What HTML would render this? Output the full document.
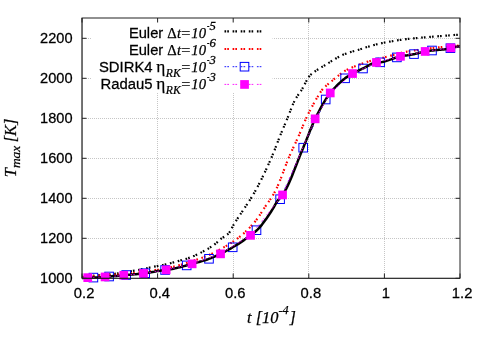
<!DOCTYPE html>
<html><head><meta charset="utf-8"><title>Tmax</title>
<style>html,body{margin:0;padding:0;background:#fff;overflow:hidden;}svg{display:block;}text{font-family:"Liberation Sans", sans-serif;fill:#000;stroke:#000;stroke-width:0.25px;}.t{font-family:"Liberation Sans", sans-serif;font-size:14.8px;}.s{font-family:"Liberation Sans", sans-serif;font-size:14.7px;}.i{font-family:"Liberation Serif", serif;font-style:italic;font-size:14.7px;}.r{font-family:"Liberation Serif", serif;font-size:14.7px;}.u{font-family:"Liberation Serif", serif;font-style:italic;font-size:11.76px;}.e{font-family:"Liberation Serif", serif;font-size:17.3px;}.L{font-family:"Liberation Serif", serif;font-style:italic;font-size:16.4px;}.l{font-family:"Liberation Serif", serif;font-style:italic;font-size:12.3px;}.l2{font-family:"Liberation Serif", serif;font-style:italic;font-size:13.4px;}</style></head><body>
<svg style="will-change:transform" width="487" height="341" viewBox="0 0 487 341">
<rect x="0" y="0" width="487" height="341" fill="#fff"/>
<g>
<line x1="157.5" y1="278.0" x2="157.5" y2="18.0" stroke="#c6c6c6" stroke-width="1" stroke-dasharray="1,1" fill="none"/>
<line x1="233.5" y1="278.0" x2="233.5" y2="18.0" stroke="#c6c6c6" stroke-width="1" stroke-dasharray="1,1" fill="none"/>
<line x1="308.5" y1="278.0" x2="308.5" y2="18.0" stroke="#c6c6c6" stroke-width="1" stroke-dasharray="1,1" fill="none"/>
<line x1="384.5" y1="278.0" x2="384.5" y2="18.0" stroke="#c6c6c6" stroke-width="1" stroke-dasharray="1,1" fill="none"/>
<line x1="82.0" y1="238.5" x2="460.0" y2="238.5" stroke="#c6c6c6" stroke-width="1" stroke-dasharray="1,1" fill="none"/>
<line x1="82.0" y1="198.5" x2="460.0" y2="198.5" stroke="#c6c6c6" stroke-width="1" stroke-dasharray="1,1" fill="none"/>
<line x1="82.0" y1="158.5" x2="460.0" y2="158.5" stroke="#c6c6c6" stroke-width="1" stroke-dasharray="1,1" fill="none"/>
<line x1="82.0" y1="118.5" x2="460.0" y2="118.5" stroke="#c6c6c6" stroke-width="1" stroke-dasharray="1,1" fill="none"/>
<line x1="82.0" y1="78.5" x2="460.0" y2="78.5" stroke="#c6c6c6" stroke-width="1" stroke-dasharray="1,1" fill="none"/>
<line x1="82.0" y1="38.5" x2="460.0" y2="38.5" stroke="#c6c6c6" stroke-width="1" stroke-dasharray="1,1" fill="none"/>
</g>
<rect x="91.5" y="18.0" width="181" height="75" fill="#fff"/>
<path d="M82.0,276.8 L83.5,276.7 L85.0,276.5 L86.5,276.4 L88.0,276.3 L89.5,276.1 L91.0,276.0 L92.5,275.8 L94.0,275.7 L95.5,275.6 L97.0,275.5 L98.5,275.3 L100.0,275.2 L101.5,275.1 L103.0,274.9 L104.5,274.8 L106.0,274.7 L107.5,274.5 L109.0,274.4 L110.5,274.3 L112.0,274.1 L113.5,274.0 L115.0,273.8 L116.5,273.6 L118.0,273.4 L119.5,273.2 L121.0,273.0 L122.5,272.8 L124.0,272.5 L125.5,272.3 L127.0,272.0 L128.5,271.7 L130.0,271.5 L131.5,271.2 L133.0,270.9 L134.5,270.6 L136.0,270.4 L137.5,270.1 L139.0,269.8 L140.5,269.5 L142.0,269.2 L143.5,268.9 L145.0,268.6 L146.5,268.3 L148.0,267.9 L149.5,267.6 L151.0,267.3 L152.5,267.0 L154.0,266.7 L155.5,266.4 L157.0,266.1 L158.5,265.8 L160.0,265.5 L161.5,265.3 L163.0,265.0 L164.5,264.7 L166.0,264.3 L167.5,264.0 L169.0,263.6 L170.5,263.2 L172.0,262.8 L173.5,262.4 L175.0,262.0 L176.5,261.5 L178.0,261.1 L179.5,260.6 L181.0,260.2 L182.5,259.8 L184.0,259.4 L185.5,259.0 L187.0,258.6 L188.5,258.1 L190.0,257.5 L191.5,256.9 L193.0,256.3 L194.5,255.7 L196.0,255.0 L197.5,254.3 L199.0,253.6 L200.5,252.9 L202.0,252.1 L203.5,251.3 L205.0,250.5 L206.5,249.6 L208.0,248.8 L209.5,247.8 L211.0,246.8 L212.5,245.8 L214.0,244.8 L215.5,243.6 L217.0,242.4 L218.5,241.0 L220.0,239.6 L221.5,238.4 L223.0,237.5 L224.5,236.6 L226.0,235.6 L227.5,234.5 L229.0,233.1 L230.5,230.8 L232.0,227.8 L233.5,225.0 L235.0,222.5 L236.5,220.1 L238.0,217.8 L239.5,215.5 L241.0,213.3 L242.5,211.1 L244.0,208.9 L245.5,206.7 L247.0,204.4 L248.5,202.1 L250.0,199.8 L251.5,197.4 L253.0,195.0 L254.5,192.4 L256.0,189.7 L257.5,187.0 L259.0,184.1 L260.5,181.2 L262.0,178.2 L263.5,175.1 L265.0,171.9 L266.5,168.7 L268.0,165.4 L269.5,162.1 L271.0,158.7 L272.5,155.2 L274.0,151.6 L275.5,147.7 L277.0,143.8 L278.5,139.9 L280.0,136.0 L281.5,132.4 L283.0,128.8 L284.5,125.3 L286.0,121.7 L287.5,118.1 L289.0,114.3 L290.5,110.4 L292.0,106.5 L293.5,103.0 L295.0,99.9 L296.5,97.4 L298.0,95.2 L299.5,93.1 L301.0,90.9 L302.5,88.4 L304.0,85.5 L305.5,82.6 L307.0,79.9 L308.5,77.3 L310.0,75.4 L311.5,74.0 L313.0,72.8 L314.5,71.7 L316.0,70.7 L317.5,69.7 L319.0,68.8 L320.5,67.8 L322.0,66.9 L323.5,66.1 L325.0,65.2 L326.5,64.3 L328.0,63.3 L329.5,62.4 L331.0,61.4 L332.5,60.5 L334.0,59.6 L335.5,58.7 L337.0,57.8 L338.5,57.0 L340.0,56.2 L341.5,55.4 L343.0,54.7 L344.5,54.1 L346.0,53.6 L347.5,53.0 L349.0,52.6 L350.5,52.1 L352.0,51.7 L353.5,51.2 L355.0,50.8 L356.5,50.4 L358.0,50.0 L359.5,49.5 L361.0,49.0 L362.5,48.5 L364.0,48.0 L365.5,47.5 L367.0,47.0 L368.5,46.6 L370.0,46.1 L371.5,45.7 L373.0,45.3 L374.5,44.9 L376.0,44.5 L377.5,44.1 L379.0,43.8 L380.5,43.5 L382.0,43.1 L383.5,42.8 L385.0,42.5 L386.5,42.2 L388.0,42.0 L389.5,41.7 L391.0,41.4 L392.5,41.2 L394.0,40.9 L395.5,40.7 L397.0,40.4 L398.5,40.2 L400.0,40.0 L401.5,39.8 L403.0,39.6 L404.5,39.4 L406.0,39.2 L407.5,39.0 L409.0,38.8 L410.5,38.7 L412.0,38.5 L413.5,38.4 L415.0,38.2 L416.5,38.1 L418.0,37.9 L419.5,37.8 L421.0,37.7 L422.5,37.5 L424.0,37.4 L425.5,37.3 L427.0,37.2 L428.5,37.1 L430.0,36.9 L431.5,36.8 L433.0,36.7 L434.5,36.6 L436.0,36.5 L437.5,36.3 L439.0,36.2 L440.5,36.1 L442.0,36.0 L443.5,35.9 L445.0,35.7 L446.5,35.6 L448.0,35.5 L449.5,35.4 L451.0,35.3 L452.5,35.2 L454.0,35.0 L455.5,34.9 L457.0,34.8 L458.5,34.7 L460.0,34.6" fill="none" stroke="#000" stroke-width="2.2" stroke-dasharray="1.65,1.1,1.65,3.7"/>
<path d="M82.0,277.2 L83.5,277.1 L85.0,276.9 L86.5,276.8 L88.0,276.7 L89.5,276.6 L91.0,276.4 L92.5,276.3 L94.0,276.2 L95.5,276.1 L97.0,276.0 L98.5,275.9 L100.0,275.8 L101.5,275.7 L103.0,275.6 L104.5,275.6 L106.0,275.5 L107.5,275.4 L109.0,275.3 L110.5,275.2 L112.0,275.1 L113.5,275.0 L115.0,274.9 L116.5,274.7 L118.0,274.6 L119.5,274.5 L121.0,274.4 L122.5,274.2 L124.0,274.1 L125.5,273.9 L127.0,273.8 L128.5,273.6 L130.0,273.5 L131.5,273.3 L133.0,273.2 L134.5,273.0 L136.0,272.8 L137.5,272.6 L139.0,272.4 L140.5,272.3 L142.0,272.1 L143.5,271.8 L145.0,271.6 L146.5,271.4 L148.0,271.2 L149.5,271.0 L151.0,270.8 L152.5,270.5 L154.0,270.3 L155.5,270.0 L157.0,269.8 L158.5,269.6 L160.0,269.3 L161.5,269.1 L163.0,268.8 L164.5,268.5 L166.0,268.2 L167.5,268.0 L169.0,267.7 L170.5,267.3 L172.0,267.0 L173.5,266.7 L175.0,266.3 L176.5,266.0 L178.0,265.6 L179.5,265.1 L181.0,264.7 L182.5,264.3 L184.0,263.8 L185.5,263.4 L187.0,262.9 L188.5,262.4 L190.0,261.9 L191.5,261.4 L193.0,260.9 L194.5,260.4 L196.0,259.9 L197.5,259.4 L199.0,258.9 L200.5,258.3 L202.0,257.8 L203.5,257.2 L205.0,256.6 L206.5,256.0 L208.0,255.4 L209.5,254.8 L211.0,254.1 L212.5,253.4 L214.0,252.7 L215.5,251.9 L217.0,251.2 L218.5,250.4 L220.0,249.5 L221.5,248.7 L223.0,247.8 L224.5,246.9 L226.0,246.1 L227.5,245.2 L229.0,244.3 L230.5,243.3 L232.0,242.4 L233.5,241.4 L235.0,240.4 L236.5,239.3 L238.0,238.2 L239.5,237.0 L241.0,235.8 L242.5,234.5 L244.0,233.2 L245.5,231.8 L247.0,230.3 L248.5,228.8 L250.0,227.3 L251.5,225.6 L253.0,224.0 L254.5,222.2 L256.0,220.4 L257.5,218.4 L259.0,216.2 L260.5,213.9 L262.0,211.6 L263.5,209.2 L265.0,207.0 L266.5,204.8 L268.0,202.7 L269.5,200.5 L271.0,198.3 L272.5,196.0 L274.0,193.5 L275.5,190.7 L277.0,187.6 L278.5,184.2 L280.0,180.5 L281.5,176.7 L283.0,172.7 L284.5,168.6 L286.0,164.7 L287.5,160.8 L289.0,157.1 L290.5,153.7 L292.0,150.4 L293.5,147.2 L295.0,144.0 L296.5,140.8 L298.0,137.5 L299.5,134.1 L301.0,130.5 L302.5,126.8 L304.0,123.1 L305.5,119.7 L307.0,116.5 L308.5,113.4 L310.0,110.5 L311.5,107.6 L313.0,104.8 L314.5,102.2 L316.0,99.5 L317.5,97.0 L319.0,94.5 L320.5,92.1 L322.0,90.0 L323.5,88.3 L325.0,86.8 L326.5,85.4 L328.0,84.2 L329.5,82.9 L331.0,81.7 L332.5,80.5 L334.0,79.2 L335.5,78.0 L337.0,76.7 L338.5,75.5 L340.0,74.3 L341.5,73.1 L343.0,72.1 L344.5,71.1 L346.0,70.2 L347.5,69.5 L349.0,68.8 L350.5,68.1 L352.0,67.5 L353.5,66.9 L355.0,66.3 L356.5,65.7 L358.0,65.2 L359.5,64.6 L361.0,64.1 L362.5,63.5 L364.0,63.0 L365.5,62.5 L367.0,61.9 L368.5,61.4 L370.0,61.0 L371.5,60.5 L373.0,60.1 L374.5,59.7 L376.0,59.4 L377.5,59.0 L379.0,58.6 L380.5,58.3 L382.0,57.9 L383.5,57.6 L385.0,57.2 L386.5,56.8 L388.0,56.4 L389.5,56.0 L391.0,55.6 L392.5,55.2 L394.0,54.8 L395.5,54.4 L397.0,53.9 L398.5,53.6 L400.0,53.2 L401.5,52.8 L403.0,52.4 L404.5,52.1 L406.0,51.8 L407.5,51.5 L409.0,51.3 L410.5,51.0 L412.0,50.8 L413.5,50.5 L415.0,50.3 L416.5,50.1 L418.0,49.9 L419.5,49.6 L421.0,49.4 L422.5,49.3 L424.0,49.1 L425.5,48.9 L427.0,48.7 L428.5,48.5 L430.0,48.4 L431.5,48.2 L433.0,48.0 L434.5,47.9 L436.0,47.7 L437.5,47.5 L439.0,47.4 L440.5,47.2 L442.0,47.1 L443.5,46.9 L445.0,46.8 L446.5,46.7 L448.0,46.5 L449.5,46.4 L451.0,46.3 L452.5,46.1 L454.0,46.0 L455.5,45.9 L457.0,45.8 L458.5,45.7 L460.0,45.6" fill="none" stroke="#f00" stroke-width="2.2" stroke-dasharray="1.65,1.1,1.65,3.7"/>
<path d="M82.0,278.0 L93.4,277.6 L109.1,276.5 L126.2,275.0 L145.2,273.2 L165.1,270.0 L186.7,265.4 L209.0,258.8 L232.7,247.3 L256.5,230.2 L280.1,199.2 L303.2,147.7 L325.7,99.5 L345.1,78.3 L363.0,68.5 L380.1,62.3 L396.9,57.4 L414.0,54.1 L432.0,50.5 L450.4,48.2 L460.0,46.8" fill="none" stroke="#00f" stroke-width="0.8" stroke-dasharray="1.7,1.1,1.7,3.6"/>
<rect x="89.1" y="273.3" width="8.6" height="8.6" fill="none" stroke="#00f" stroke-width="1"/>
<rect x="104.8" y="272.2" width="8.6" height="8.6" fill="none" stroke="#00f" stroke-width="1"/>
<rect x="121.9" y="270.7" width="8.6" height="8.6" fill="none" stroke="#00f" stroke-width="1"/>
<rect x="140.9" y="268.9" width="8.6" height="8.6" fill="none" stroke="#00f" stroke-width="1"/>
<rect x="160.8" y="265.7" width="8.6" height="8.6" fill="none" stroke="#00f" stroke-width="1"/>
<rect x="182.4" y="261.1" width="8.6" height="8.6" fill="none" stroke="#00f" stroke-width="1"/>
<rect x="204.7" y="254.5" width="8.6" height="8.6" fill="none" stroke="#00f" stroke-width="1"/>
<rect x="228.4" y="243.0" width="8.6" height="8.6" fill="none" stroke="#00f" stroke-width="1"/>
<rect x="252.2" y="225.9" width="8.6" height="8.6" fill="none" stroke="#00f" stroke-width="1"/>
<rect x="275.8" y="194.9" width="8.6" height="8.6" fill="none" stroke="#00f" stroke-width="1"/>
<rect x="298.9" y="143.4" width="8.6" height="8.6" fill="none" stroke="#00f" stroke-width="1"/>
<rect x="321.4" y="95.2" width="8.6" height="8.6" fill="none" stroke="#00f" stroke-width="1"/>
<rect x="340.8" y="74.0" width="8.6" height="8.6" fill="none" stroke="#00f" stroke-width="1"/>
<rect x="358.7" y="64.2" width="8.6" height="8.6" fill="none" stroke="#00f" stroke-width="1"/>
<rect x="375.8" y="58.0" width="8.6" height="8.6" fill="none" stroke="#00f" stroke-width="1"/>
<rect x="392.6" y="53.1" width="8.6" height="8.6" fill="none" stroke="#00f" stroke-width="1"/>
<rect x="409.7" y="49.8" width="8.6" height="8.6" fill="none" stroke="#00f" stroke-width="1"/>
<rect x="427.7" y="46.2" width="8.6" height="8.6" fill="none" stroke="#00f" stroke-width="1"/>
<rect x="446.1" y="43.9" width="8.6" height="8.6" fill="none" stroke="#00f" stroke-width="1"/>
<path d="M82.0,278.0 L83.5,277.9 L85.0,277.8 L86.5,277.7 L88.0,277.7 L89.5,277.7 L91.0,277.6 L92.5,277.6 L94.0,277.6 L95.5,277.5 L97.0,277.5 L98.5,277.4 L100.0,277.3 L101.5,277.2 L103.0,277.1 L104.5,277.0 L106.0,276.9 L107.5,276.7 L109.0,276.5 L110.5,276.4 L112.0,276.2 L113.5,276.1 L115.0,276.0 L116.5,275.9 L118.0,275.8 L119.5,275.7 L121.0,275.5 L122.5,275.4 L124.0,275.3 L125.5,275.1 L127.0,274.9 L128.5,274.8 L130.0,274.7 L131.5,274.5 L133.0,274.4 L134.5,274.3 L136.0,274.2 L137.5,274.1 L139.0,274.0 L140.5,273.8 L142.0,273.7 L143.5,273.5 L145.0,273.2 L146.5,273.0 L148.0,272.7 L149.5,272.5 L151.0,272.2 L152.5,271.9 L154.0,271.7 L155.5,271.4 L157.0,271.1 L158.5,270.9 L160.0,270.7 L161.5,270.4 L163.0,270.2 L164.5,270.1 L166.0,269.9 L167.5,269.7 L169.0,269.5 L170.5,269.3 L172.0,269.0 L173.5,268.7 L175.0,268.3 L176.5,268.0 L178.0,267.6 L179.5,267.2 L181.0,266.9 L182.5,266.5 L184.0,266.1 L185.5,265.7 L187.0,265.3 L188.5,264.9 L190.0,264.5 L191.5,264.1 L193.0,263.6 L194.5,263.2 L196.0,262.8 L197.5,262.4 L199.0,262.0 L200.5,261.5 L202.0,261.1 L203.5,260.6 L205.0,260.2 L206.5,259.7 L208.0,259.2 L209.5,258.6 L211.0,258.0 L212.5,257.4 L214.0,256.8 L215.5,256.1 L217.0,255.5 L218.5,254.8 L220.0,254.0 L221.5,253.3 L223.0,252.6 L224.5,251.8 L226.0,251.0 L227.5,250.2 L229.0,249.4 L230.5,248.6 L232.0,247.7 L233.5,246.8 L235.0,245.9 L236.5,245.0 L238.0,244.1 L239.5,243.1 L241.0,242.1 L242.5,241.1 L244.0,240.1 L245.5,239.0 L247.0,238.0 L248.5,236.9 L250.0,235.8 L251.5,234.6 L253.0,233.4 L254.5,232.2 L256.0,231.0 L257.5,229.6 L259.0,228.1 L260.5,226.4 L262.0,224.6 L263.5,222.6 L265.0,220.6 L266.5,218.5 L268.0,216.3 L269.5,214.1 L271.0,211.8 L272.5,209.4 L274.0,206.8 L275.5,204.1 L277.0,201.6 L278.5,199.6 L280.0,197.9 L281.5,196.3 L283.0,194.3 L284.5,191.9 L286.0,189.1 L287.5,186.1 L289.0,182.9 L290.5,179.5 L292.0,175.9 L293.5,172.1 L295.0,168.3 L296.5,164.5 L298.0,160.6 L299.5,156.8 L301.0,153.0 L302.5,149.4 L304.0,145.8 L305.5,142.1 L307.0,138.4 L308.5,134.6 L310.0,130.8 L311.5,127.2 L313.0,123.6 L314.5,120.3 L316.0,117.2 L317.5,114.1 L319.0,111.2 L320.5,108.4 L322.0,105.7 L323.5,103.1 L325.0,100.6 L326.5,98.2 L328.0,96.0 L329.5,93.9 L331.0,92.1 L332.5,90.3 L334.0,88.6 L335.5,87.0 L337.0,85.4 L338.5,84.0 L340.0,82.6 L341.5,81.2 L343.0,79.9 L344.5,78.8 L346.0,77.6 L347.5,76.6 L349.0,75.7 L350.5,74.8 L352.0,73.9 L353.5,73.1 L355.0,72.3 L356.5,71.6 L358.0,70.8 L359.5,70.1 L361.0,69.4 L362.5,68.7 L364.0,68.0 L365.5,67.2 L367.0,66.4 L368.5,65.5 L370.0,64.7 L371.5,64.0 L373.0,63.4 L374.5,62.9 L376.0,62.6 L377.5,62.4 L379.0,62.4 L380.5,62.3 L382.0,62.1 L383.5,61.8 L385.0,61.4 L386.5,60.9 L388.0,60.4 L389.5,59.9 L391.0,59.4 L392.5,58.8 L394.0,58.3 L395.5,57.8 L397.0,57.4 L398.5,56.9 L400.0,56.5 L401.5,56.2 L403.0,55.9 L404.5,55.6 L406.0,55.4 L407.5,55.2 L409.0,54.9 L410.5,54.7 L412.0,54.5 L413.5,54.2 L415.0,53.9 L416.5,53.5 L418.0,53.2 L419.5,52.8 L421.0,52.4 L422.5,52.1 L424.0,51.7 L425.5,51.4 L427.0,51.2 L428.5,51.0 L430.0,50.8 L431.5,50.6 L433.0,50.4 L434.5,50.2 L436.0,50.1 L437.5,49.9 L439.0,49.8 L440.5,49.7 L442.0,49.6 L443.5,49.4 L445.0,49.2 L446.5,49.0 L448.0,48.7 L449.5,48.4 L451.0,47.9 L452.5,47.5 L454.0,47.2 L455.5,46.9 L457.0,46.7 L458.5,46.6 L460.0,46.6" fill="none" stroke="#000" stroke-width="2.5" stroke-linejoin="round"/>
<path d="M82.0,278.0 L87.7,277.7 L105.0,277.0 L123.7,275.3 L143.4,273.5 L166.2,269.9 L192.1,263.9 L220.5,253.8 L250.6,235.3 L282.6,194.9 L315.2,118.8 L330.3,92.9 L352.6,73.6 L376.5,62.5 L400.5,56.4 L425.2,51.5 L450.9,47.9 L460.0,46.6" fill="none" stroke="#f0f" stroke-width="0.8" stroke-dasharray="1.7,1.1,1.7,3.6"/>
<rect x="83.4" y="273.3" width="8.7" height="8.7" fill="#f0f"/>
<rect x="100.7" y="272.6" width="8.7" height="8.7" fill="#f0f"/>
<rect x="119.4" y="270.9" width="8.7" height="8.7" fill="#f0f"/>
<rect x="139.1" y="269.1" width="8.7" height="8.7" fill="#f0f"/>
<rect x="161.8" y="265.5" width="8.7" height="8.7" fill="#f0f"/>
<rect x="187.8" y="259.5" width="8.7" height="8.7" fill="#f0f"/>
<rect x="216.2" y="249.5" width="8.7" height="8.7" fill="#f0f"/>
<rect x="246.2" y="231.0" width="8.7" height="8.7" fill="#f0f"/>
<rect x="278.2" y="190.6" width="8.7" height="8.7" fill="#f0f"/>
<rect x="310.8" y="114.5" width="8.7" height="8.7" fill="#f0f"/>
<rect x="325.9" y="88.6" width="8.7" height="8.7" fill="#f0f"/>
<rect x="348.2" y="69.2" width="8.7" height="8.7" fill="#f0f"/>
<rect x="372.1" y="58.1" width="8.7" height="8.7" fill="#f0f"/>
<rect x="396.1" y="52.0" width="8.7" height="8.7" fill="#f0f"/>
<rect x="420.8" y="47.1" width="8.7" height="8.7" fill="#f0f"/>
<rect x="446.5" y="43.5" width="8.7" height="8.7" fill="#f0f"/>
<rect x="82.0" y="18.0" width="378.0" height="260.3" fill="none" stroke="#222" stroke-width="1"/>
<path d="M82.1,18.0 V278.3 H460.0" fill="none" stroke="#000" stroke-width="1" opacity="0.4"/>
<g stroke="#222" stroke-width="1">
<line x1="82.0" y1="278.0" x2="82.0" y2="273.5"/>
<line x1="82.0" y1="18.0" x2="82.0" y2="22.5"/>
<line x1="157.6" y1="278.0" x2="157.6" y2="273.5"/>
<line x1="157.6" y1="18.0" x2="157.6" y2="22.5"/>
<line x1="233.2" y1="278.0" x2="233.2" y2="273.5"/>
<line x1="233.2" y1="18.0" x2="233.2" y2="22.5"/>
<line x1="308.8" y1="278.0" x2="308.8" y2="273.5"/>
<line x1="308.8" y1="18.0" x2="308.8" y2="22.5"/>
<line x1="384.4" y1="278.0" x2="384.4" y2="273.5"/>
<line x1="384.4" y1="18.0" x2="384.4" y2="22.5"/>
<line x1="460.0" y1="278.0" x2="460.0" y2="273.5"/>
<line x1="460.0" y1="18.0" x2="460.0" y2="22.5"/>
<line x1="82.0" y1="278.3" x2="86.5" y2="278.3"/>
<line x1="460.0" y1="278.3" x2="455.5" y2="278.3"/>
<line x1="82.0" y1="238.3" x2="86.5" y2="238.3"/>
<line x1="460.0" y1="238.3" x2="455.5" y2="238.3"/>
<line x1="82.0" y1="198.3" x2="86.5" y2="198.3"/>
<line x1="460.0" y1="198.3" x2="455.5" y2="198.3"/>
<line x1="82.0" y1="158.3" x2="86.5" y2="158.3"/>
<line x1="460.0" y1="158.3" x2="455.5" y2="158.3"/>
<line x1="82.0" y1="118.3" x2="86.5" y2="118.3"/>
<line x1="460.0" y1="118.3" x2="455.5" y2="118.3"/>
<line x1="82.0" y1="78.3" x2="86.5" y2="78.3"/>
<line x1="460.0" y1="78.3" x2="455.5" y2="78.3"/>
<line x1="82.0" y1="38.3" x2="86.5" y2="38.3"/>
<line x1="460.0" y1="38.3" x2="455.5" y2="38.3"/>
</g>
<text class="t" transform="translate(72.5,282.7) scale(0.985,1.04)" text-anchor="end" >1000</text>
<text class="t" transform="translate(72.5,242.7) scale(0.985,1.04)" text-anchor="end" >1200</text>
<text class="t" transform="translate(72.5,202.7) scale(0.985,1.04)" text-anchor="end" >1400</text>
<text class="t" transform="translate(72.5,162.7) scale(0.985,1.04)" text-anchor="end" >1600</text>
<text class="t" transform="translate(72.5,122.7) scale(0.985,1.04)" text-anchor="end" >1800</text>
<text class="t" transform="translate(72.5,82.7) scale(0.985,1.04)" text-anchor="end" >2000</text>
<text class="t" transform="translate(72.5,42.7) scale(0.985,1.04)" text-anchor="end" >2200</text>
<text class="t" transform="translate(84.1,298.2) scale(1.0,1.04)" text-anchor="middle" >0.2</text>
<text class="t" transform="translate(159.7,298.2) scale(1.0,1.04)" text-anchor="middle" >0.4</text>
<text class="t" transform="translate(235.3,298.2) scale(1.0,1.04)" text-anchor="middle" >0.6</text>
<text class="t" transform="translate(310.9,298.2) scale(1.0,1.04)" text-anchor="middle" >0.8</text>
<text class="t" transform="translate(385.8,298.2) scale(1.0,1.04)" text-anchor="middle" >1</text>
<text class="t" transform="translate(462.1,298.2) scale(1.0,1.04)" text-anchor="middle" >1.2</text>
<text x="247" y="323.0"><tspan class="L">t [10</tspan><tspan class="l" dy="-8.6">-4</tspan><tspan class="L" dy="8.6" dx="0.8">]</tspan></text>
<text transform="translate(15.8,177.2) rotate(-90)"><tspan class="L">T</tspan><tspan class="l2" dy="4.5">max</tspan><tspan class="L" dy="-4.5" dx="-0.6"> [K]</tspan></text>
<text class="i" transform="translate(180.2,37.5) scale(1.1,1)" text-anchor="start" >=</text><text class="i" x="191.3" y="37.5" text-anchor="start" >10</text><text class="u" transform="translate(207.0,29.7) scale(0.62,1)" text-anchor="start" >-</text><text class="u" transform="translate(209.5,29.7) scale(1.08,1)" text-anchor="start" >5</text><text class="s" transform="translate(128.9,37.5) scale(1.0,1.05)" text-anchor="start" >Euler</text><text class="r" x="167.3" y="37.5" text-anchor="start" >&#916;</text><text class="i" x="177.0" y="37.5" text-anchor="start" >t</text>
<text class="i" transform="translate(180.2,55.1) scale(1.1,1)" text-anchor="start" >=</text><text class="i" x="191.3" y="55.1" text-anchor="start" >10</text><text class="u" transform="translate(207.0,47.3) scale(0.62,1)" text-anchor="start" >-</text><text class="u" transform="translate(209.5,47.3) scale(1.08,1)" text-anchor="start" >6</text><text class="s" transform="translate(128.9,55.1) scale(1.0,1.05)" text-anchor="start" >Euler</text><text class="r" x="167.3" y="55.1" text-anchor="start" >&#916;</text><text class="i" x="177.0" y="55.1" text-anchor="start" >t</text>
<text class="i" transform="translate(180.2,71.6) scale(1.1,1)" text-anchor="start" >=</text><text class="i" x="191.3" y="71.6" text-anchor="start" >10</text><text class="u" transform="translate(207.0,63.8) scale(0.62,1)" text-anchor="start" >-</text><text class="u" transform="translate(209.5,63.8) scale(1.08,1)" text-anchor="start" >3</text><text class="s" transform="translate(152.6,71.6) scale(1.012,1.05)" text-anchor="end" >SDIRK4</text><text class="e" x="156.2" y="71.6" text-anchor="start" >&#951;</text><text class="u" transform="translate(165.8,76.5) scale(0.99,1)" text-anchor="start" >RK</text>
<text class="i" transform="translate(180.2,88.9) scale(1.1,1)" text-anchor="start" >=</text><text class="i" x="191.3" y="88.9" text-anchor="start" >10</text><text class="u" transform="translate(207.0,81.1) scale(0.62,1)" text-anchor="start" >-</text><text class="u" transform="translate(209.5,81.1) scale(1.08,1)" text-anchor="start" >3</text><text class="s" transform="translate(152.6,88.9) scale(1.012,1.05)" text-anchor="end" >Radau5</text><text class="e" x="156.2" y="88.9" text-anchor="start" >&#951;</text><text class="u" transform="translate(165.8,93.8) scale(0.99,1)" text-anchor="start" >RK</text>
<line x1="224.5" y1="31.3" x2="264.5" y2="31.3" stroke="#000" stroke-width="2.2" stroke-dasharray="1.65,1.1,1.65,3.7"/>
<line x1="224.5" y1="49.0" x2="264.5" y2="49.0" stroke="#f00" stroke-width="2.2" stroke-dasharray="1.65,1.1,1.65,3.7"/>
<line x1="224.5" y1="66.7" x2="264.5" y2="66.7" stroke="#00f" stroke-width="0.9" stroke-dasharray="1.7,1.1,1.7,3.6"/>
<line x1="224.5" y1="84.4" x2="264.5" y2="84.4" stroke="#f0f" stroke-width="0.9" stroke-dasharray="1.7,1.1,1.7,3.6"/>
<rect x="240.2" y="62.4" width="8.6" height="8.6" fill="none" stroke="#00f" stroke-width="1"/>
<rect x="240.2" y="80.1" width="8.7" height="8.7" fill="#f0f"/>
</svg></body></html>
